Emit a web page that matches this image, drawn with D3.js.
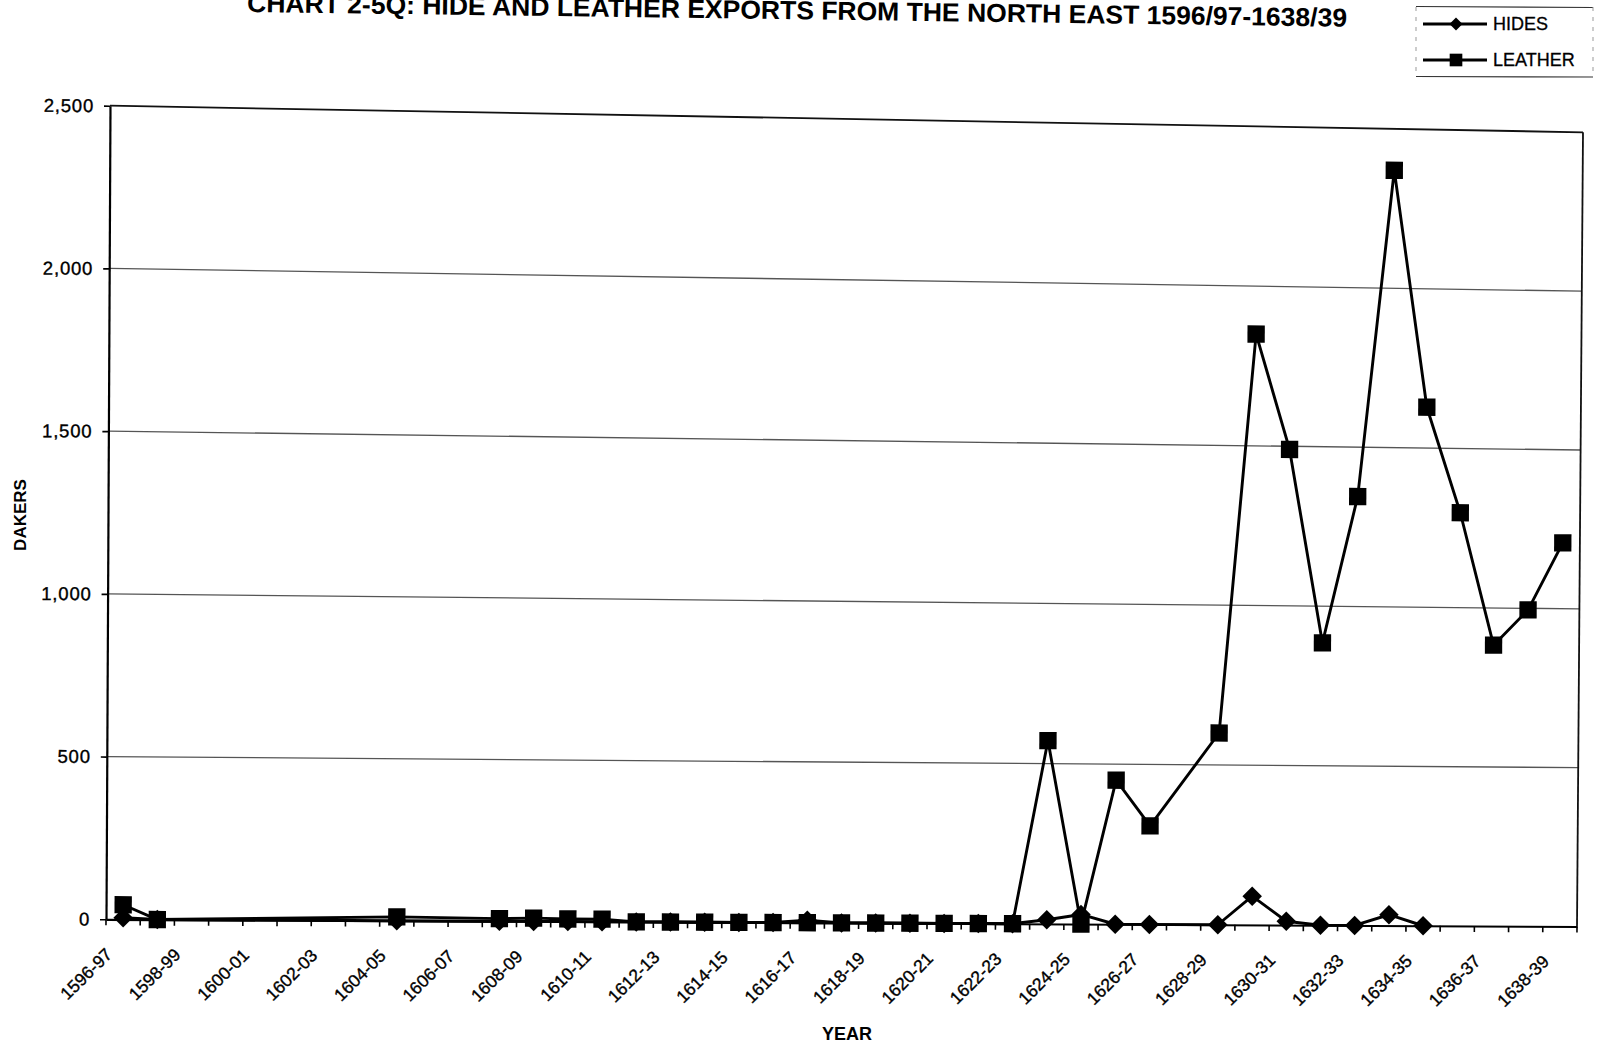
<!DOCTYPE html>
<html><head><meta charset="utf-8">
<script src="https://cdn.jsdelivr.net/npm/d3@7"></script>
<style>
body{margin:0;background:#fff}
svg{display:block}
text{font-family:"Liberation Sans",Arial,sans-serif;fill:#000}
</style>
</head><body>
<svg id="c" width="1605" height="1047"></svg>
<script>
// ---------------- data ----------------
const categories = ["1596-97","1597-98","1598-99","1599-00","1600-01","1601-02","1602-03","1603-04","1604-05","1605-06",
  "1606-07","1607-08","1608-09","1609-10","1610-11","1611-12","1612-13","1613-14","1614-15","1615-16",
  "1616-17","1617-18","1618-19","1619-20","1620-21","1621-22","1622-23","1623-24","1624-25","1625-26",
  "1626-27","1627-28","1628-29","1629-30","1630-31","1631-32","1632-33","1633-34","1634-35","1635-36",
  "1636-37","1637-38","1638-39"];
const hides = [5,0,null,null,null,null,null,null,0,null,
  null,0,0,0,0,0,0,0,0,0,
  8,0,0,0,0,0,0,13,30,0,
  0,null,0,90,12,0,0,34,0,null,
  null,null,null];
const leather = [45,0,null,null,null,null,null,null,12,null,
  null,8,10,8,8,0,0,0,0,0,
  0,0,0,0,0,0,0,572,0,450,
  308,null,600,1850,1490,885,1345,2370,1628,1298,
  883,995,1207];
const yTicks = [0,500,1000,1500,2000,2500];
const seriesNames = ["HIDES","LEATHER"];
const titleText = "CHART 2-5Q: HIDE AND LEATHER EXPORTS FROM THE NORTH EAST 1596/97-1638/39";
const yTitle = "DAKERS";
const xTitle = "YEAR";

// ---------------- layout ----------------
const svg = d3.select("#c");
// corners of the (slightly skewed, scanned) plot area
const TL=[110,105.7], TR=[1583,132.3], BL=[106,919.3], BR=[1577,926.5];
const W=1000, H=1000;
const x = d3.scaleBand().domain(categories).range([0,W]);
const y = d3.scaleLinear().domain([0,2500]).range([H,0]);
function warp(px,py){
  const u=px/W, v=py/H;
  const tx=TL[0]+u*(TR[0]-TL[0]), ty=TL[1]+u*(TR[1]-TL[1]);
  const bx=BL[0]+u*(BR[0]-BL[0]), by=BL[1]+u*(BR[1]-BL[1]);
  return [tx+v*(bx-tx), ty+v*(by-ty)];
}
const deg = 180/Math.PI;

// gridlines
svg.append("g").selectAll("line").data(yTicks.filter(t=>t>0)).join("line")
  .attr("x1",t=>warp(0,y(t))[0]).attr("y1",t=>warp(0,y(t))[1])
  .attr("x2",t=>warp(W,y(t))[0]).attr("y2",t=>warp(W,y(t))[1])
  .attr("stroke",t=>t===2500?"#111":"#555").attr("stroke-width",t=>t===2500?1.8:1.3);
// right border
svg.append("line")
  .attr("x1",warp(W,0)[0]).attr("y1",warp(W,0)[1])
  .attr("x2",warp(W,H)[0]).attr("y2",warp(W,H)[1])
  .attr("stroke","#111").attr("stroke-width",1.8);

// y axis
const leftLen = Math.hypot(BL[0]-TL[0], BL[1]-TL[1]);
const angL = Math.atan2(-(BL[0]-TL[0]), BL[1]-TL[1])*deg;
const yA = d3.scaleLinear().domain([0,2500]).range([leftLen,0]);
const yg = svg.append("g").attr("transform",`translate(${TL[0]},${TL[1]}) rotate(${angL})`)
  .call(d3.axisLeft(yA).tickValues(yTicks).tickSize(6).tickPadding(10).tickSizeOuter(0).tickFormat(d3.format(",")));
yg.select(".domain").attr("stroke","#000").attr("stroke-width",2.2);
yg.selectAll(".tick line").attr("stroke","#000").attr("stroke-width",1.6);
yg.selectAll(".tick text").style("font-size","18.5px").style("letter-spacing","0.8px")
  .attr("fill","#000").attr("stroke","#000").attr("stroke-width",0.35);

// x axis
const bottomLen = Math.hypot(BR[0]-BL[0], BR[1]-BL[1]);
const angB = Math.atan2(BR[1]-BL[1], BR[0]-BL[0])*deg;
const xA = d3.scaleBand().domain(categories).range([0,bottomLen]);
const xg = svg.append("g").attr("transform",`translate(${BL[0]},${BL[1]}) rotate(${angB})`)
  .call(d3.axisBottom(xA).tickSize(0).tickSizeOuter(0).tickFormat((d,i)=>i%2===0?d:""));
xg.select(".domain").attr("stroke","#000").attr("stroke-width",2.2);
xg.selectAll(".tick text")
  .attr("x",0).attr("y",0).attr("dy","0.35em")
  .attr("transform","translate(-14,32) rotate(-45)")
  .style("text-anchor","end").style("font-size","17.5px")
  .attr("fill","#000").attr("stroke","#000").attr("stroke-width",0.35);
// category boundary tick marks
xg.append("g").selectAll("line").data(categories.concat(["__end"])).join("line")
  .attr("x1",d=>d==="__end"?xA.range()[1]:xA(d)).attr("x2",d=>d==="__end"?xA.range()[1]:xA(d))
  .attr("y1",0).attr("y2",6).attr("stroke","#000").attr("stroke-width",1.6);

// ---------------- series ----------------
function pts(vals){
  return categories.map((c,i)=>({c,v:vals[i]})).filter(d=>d.v!==null)
    .map(d=>warp(x(d.c)+x.bandwidth()/2, y(d.v)));
}
const lineGen = d3.line();
const hp = pts(hides), lp = pts(leather);
svg.append("path").attr("d",lineGen(hp)).attr("fill","none").attr("stroke","#000").attr("stroke-width",2.9).attr("stroke-linejoin","round");
svg.append("g").selectAll("path").data(hp).join("path")
  .attr("d",d3.symbol(d3.symbolSquare,190)())
  .attr("transform",d=>`translate(${d[0]},${d[1]}) rotate(45)`).attr("fill","#000");
svg.append("path").attr("d",lineGen(lp)).attr("fill","none").attr("stroke","#000").attr("stroke-width",2.9).attr("stroke-linejoin","round");
svg.append("g").selectAll("path").data(lp).join("path")
  .attr("d",d3.symbol(d3.symbolSquare,300)())
  .attr("transform",d=>`translate(${d[0]},${d[1]}) rotate(${angB})`).attr("fill","#000");

// ---------------- titles ----------------
svg.append("text").text(titleText)
  .attr("transform","translate(247,12) rotate(0.76)")
  .attr("textLength",1100).attr("lengthAdjust","spacingAndGlyphs")
  .style("font-family","'Liberation Sans Narrow','Liberation Sans',Arial,sans-serif")
  .style("font-weight","bold").style("font-size","26px");
svg.append("text").text(yTitle)
  .attr("transform","translate(26,515) rotate(-90)")
  .attr("text-anchor","middle").style("font-weight","bold").style("font-size","17px");
svg.append("text").text(xTitle)
  .attr("x",847).attr("y",1040)
  .attr("text-anchor","middle").style("font-weight","bold").style("font-size","18px");

// ---------------- legend ----------------
const lg = svg.append("g");
lg.append("line").attr("x1",1416).attr("x2",1593).attr("y1",6.5).attr("y2",7.5).attr("stroke","#333").attr("stroke-width",1.2);
lg.append("line").attr("x1",1416).attr("x2",1593).attr("y1",76.5).attr("y2",77).attr("stroke","#333").attr("stroke-width",1.2);
lg.append("line").attr("x1",1416).attr("x2",1416).attr("y1",7).attr("y2",77).attr("stroke","#999").attr("stroke-width",1).attr("stroke-dasharray","4,6");
lg.append("line").attr("x1",1593).attr("x2",1593).attr("y1",7).attr("y2",77).attr("stroke","#999").attr("stroke-width",1).attr("stroke-dasharray","4,6");
const rows = lg.selectAll("g.row").data(seriesNames).join("g").attr("class","row")
  .attr("transform",(d,i)=>`translate(0,${24+i*36})`);
rows.append("line").attr("x1",1423).attr("x2",1487).attr("y1",0).attr("y2",0).attr("stroke","#000").attr("stroke-width",2.8);
rows.append("path")
  .attr("d",(d,i)=>d3.symbol(d3.symbolSquare,i===0?85:160)())
  .attr("transform",(d,i)=>`translate(1456,0) rotate(${i===0?45:0})`).attr("fill","#000");
rows.append("text").text(d=>d).attr("x",1493).attr("y",0).attr("dy","0.36em")
  .style("font-size","18px").attr("stroke","#000").attr("stroke-width",0.3);
</script>
</body></html>
